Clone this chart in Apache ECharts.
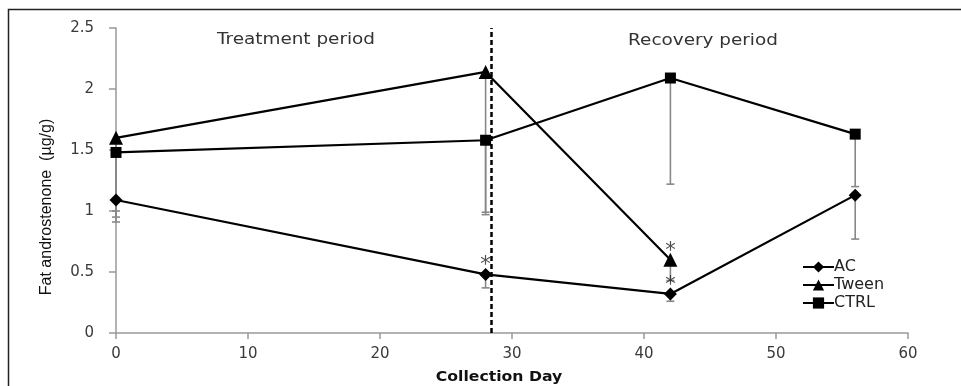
<!DOCTYPE html>
<html><head><meta charset="utf-8">
<script src="https://cdn.jsdelivr.net/npm/echarts@6/dist/echarts.min.js"></script>
<style>html,body{margin:0;padding:0;background:#fff}#c{width:961px;height:386px}</style>
</head><body><div id="c"></div>
<script>
const days = [0, 28, 42, 56];
const acValues = [1.09, 0.48, 0.32, 1.13];
const tweenDays = [0, 28, 42];
const tweenValues = [1.60, 2.14, 0.60];
const ctrlValues = [1.48, 1.58, 2.09, 1.63];
// error bars: [day, from value, to value]
const errorBars = [
  [0, 1.60, 1.00], [0, 1.48, 0.95], [0, 1.09, 0.91],
  [28, 2.14, 0.97], [28, 1.58, 0.99], [28, 0.48, 0.37],
  [42, 2.09, 1.22], [42, 0.60, 0.43], [42, 0.32, 0.26],
  [56, 1.63, 1.20], [56, 1.13, 0.77]
];
const asterisks = [[28, 0.48], [42, 0.60], [42, 0.32]];
const dividerDay = 28.4;
const xTicks = [0, 10, 20, 30, 40, 50, 60];
const yTicks = [0, 0.5, 1, 1.5, 2, 2.5];

const chart = echarts.init(document.getElementById('c'));
const font = 'DejaVu Sans';
chart.setOption({
  animation: false,
  grid: {left: 116, right: 53, top: 28, bottom: 53},
  xAxis: {
    type: 'value', min: xTicks[0], max: xTicks[xTicks.length - 1], interval: 10,
    axisLine: {lineStyle: {color: '#999', width: 1.5}},
    axisTick: {show: true, length: 6, lineStyle: {color: '#999', width: 1.5}},
    splitLine: {show: false},
    axisLabel: {color: '#3a3a3a', fontFamily: font, fontSize: 15, margin: 14}
  },
  yAxis: {
    type: 'value', min: yTicks[0], max: yTicks[yTicks.length - 1], interval: 0.5,
    axisLine: {show: true, lineStyle: {color: '#999', width: 1.5}},
    axisTick: {show: true, length: 7, lineStyle: {color: '#999', width: 1.5}},
    splitLine: {show: false},
    axisLabel: {color: '#3a3a3a', fontFamily: font, fontSize: 15, margin: 22}
  },
  legend: {
    orient: 'vertical', left: 797, top: 254, itemGap: 2, itemWidth: 31, itemHeight: 14,
    textStyle: {fontFamily: font, fontSize: 16, color: '#222', padding: [0,0,0,-5]},
    data: ['AC', 'Tween', 'CTRL']
  },
  graphic: [
    {type: 'rect', shape: {x: 8.5, y: 9.5, width: 960, height: 400}, style: {fill: 'none', stroke: '#222', lineWidth: 1.5}, z: -1},
    {type: 'text', x: 296, y: 40, scaleX: 1.15, style: {text: 'Treatment period', font: '16px "DejaVu Sans"', fill: '#333', textAlign: 'center', textVerticalAlign: 'middle'}},
    {type: 'text', x: 703, y: 41, scaleX: 1.15, style: {text: 'Recovery period', font: '16px "DejaVu Sans"', fill: '#333', textAlign: 'center', textVerticalAlign: 'middle'}},
    {type: 'text', x: 47, y: 207, rotation: Math.PI / 2, style: {text: 'Fat androstenone  (µg/g)', font: '16px "Liberation Sans"', fill: '#111', textAlign: 'center', textVerticalAlign: 'middle'}},
    {type: 'text', x: 499, y: 377, scaleX: 1.12, style: {text: 'Collection Day', font: 'bold 14px "DejaVu Sans"', fill: '#111', textAlign: 'center', textVerticalAlign: 'middle'}}
  ],
  series: [
    {
      type: 'custom', name: 'err', z: 1, silent: true,
      data: errorBars,
      renderItem: function (params, api) {
        const p1 = api.coord([api.value(0), api.value(1)]);
        const p2 = api.coord([api.value(0), api.value(2)]);
        const st = {stroke: '#888', lineWidth: 1.6};
        return {type: 'group', children: [
          {type: 'line', shape: {x1: p1[0], y1: p1[1], x2: p2[0], y2: p2[1]}, style: st},
          {type: 'line', shape: {x1: p2[0] - 4, y1: p2[1], x2: p2[0] + 4, y2: p2[1]}, style: st}
        ]};
      }
    },
    {
      name: 'AC', type: 'line', z: 3, data: days.map((d, i) => [d, acValues[i]]),
      symbol: 'diamond', symbolSize: 13, color: '#000',
      lineStyle: {color: '#000', width: 2.2}, itemStyle: {color: '#000'},
      markLine: {
        silent: true, symbol: 'none', label: {show: false},
        lineStyle: {color: '#000', type: [5, 3], width: 2.5},
        data: [{xAxis: dividerDay}]
      }
    },
    {
      name: 'Tween', type: 'line', z: 3, data: tweenDays.map((d, i) => [d, tweenValues[i]]),
      symbol: 'triangle', symbolSize: 14, color: '#000',
      lineStyle: {color: '#000', width: 2.2}, itemStyle: {color: '#000'}
    },
    {
      name: 'CTRL', type: 'line', z: 3, data: days.map((d, i) => [d, ctrlValues[i]]),
      symbol: 'rect', symbolSize: 11, color: '#000',
      lineStyle: {color: '#000', width: 2.2}, itemStyle: {color: '#000'}
    },
    {
      type: 'scatter', name: 'sig', z: 4, silent: true, symbolSize: 0,
      data: asterisks,
      label: {show: true, formatter: '*', position: 'top', distance: 0, offset: [0, 2], fontSize: 21, color: '#222', fontFamily: font}
    }
  ]
});
</script></body></html>
